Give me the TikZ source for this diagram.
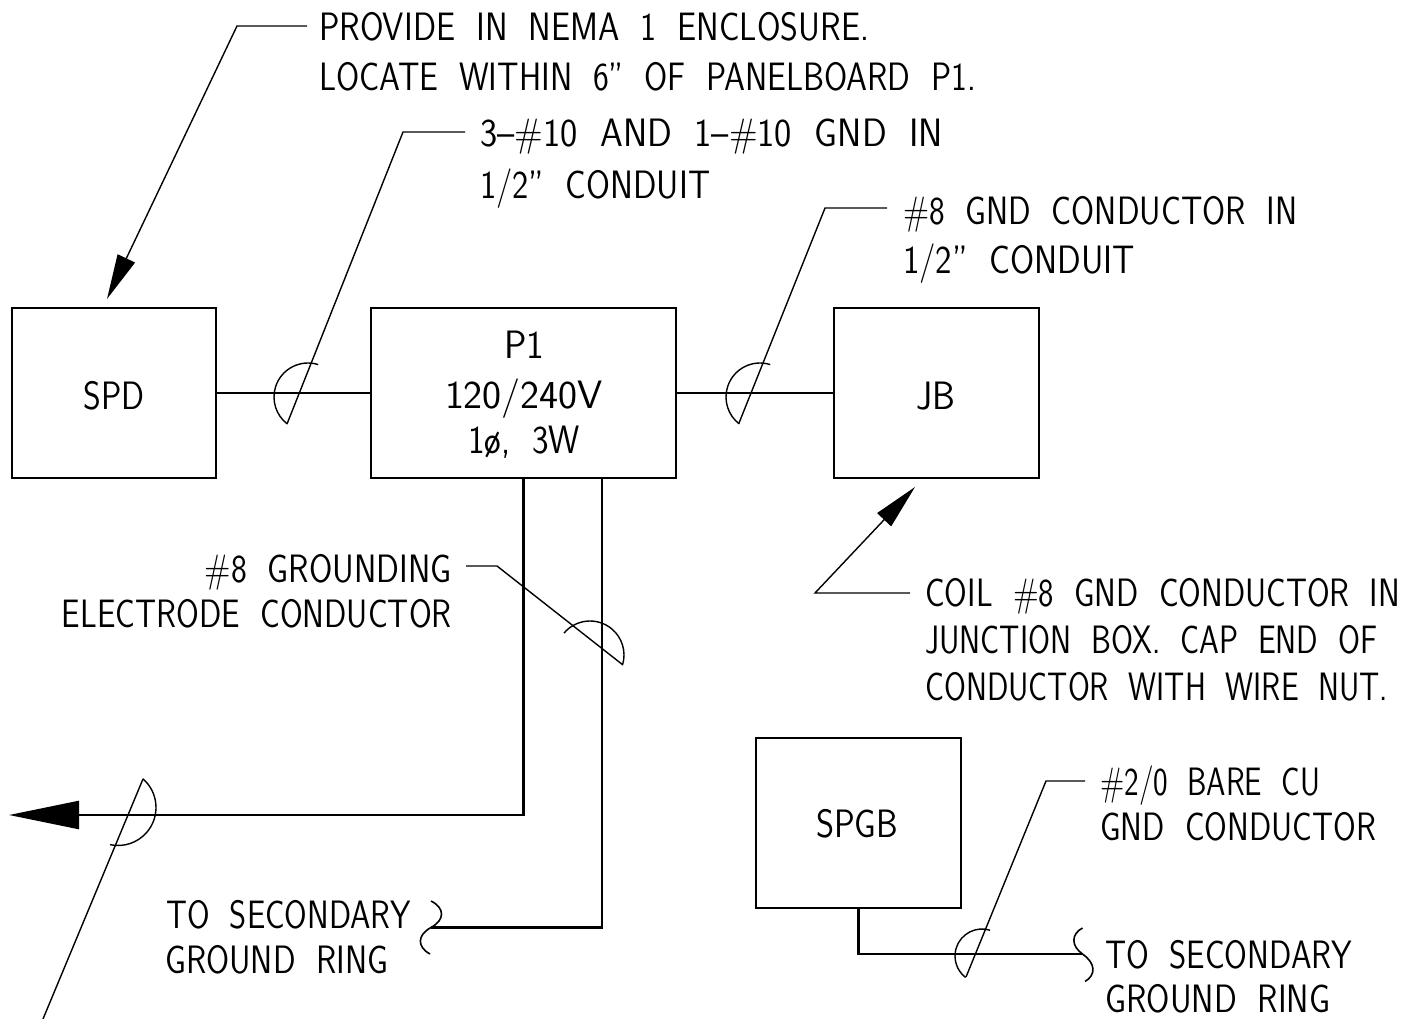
\documentclass[tikz,border=0pt]{standalone}
\usetikzlibrary{arrows.meta}
\usepackage{graphicx}
\newsavebox\fitbox
\newcommand\fitw[2]{\sbox\fitbox{\spaceskip=0.62em\relax #2}\pgfmathsetmacro\fitr{#1/\wd\fitbox}\scalebox{\fitr}[1]{\usebox\fitbox}}
\begin{document}
\begin{tikzpicture}[x=1pt,y=1pt,yscale=-1,
  box/.style={draw, line width=2.6pt, inner sep=0pt, minimum height=170pt},
  wire/.style={line width=2.4pt},
  leader/.style={line width=1.4pt},
  arcs/.style={line width=1.4pt},
  brk/.style={line width=1.6pt},
  lbl/.style={inner sep=0pt, font=\sffamily\fontsize{39.6}{45}\selectfont},
  bigtip/.style={-{Triangle[length=70pt,width=28pt]}},
  smalltip/.style={-{Triangle[length=45pt,width=19pt]}}]
\useasboundingbox (0,0) rectangle (1426,1019);
\fill[white] (0,0) rectangle (1426,1019);

% boxes
\node[box, minimum width=204pt] (spd) at (114,393) {};
\node[box, minimum width=305pt] (p1) at (523.5,393) {};
\node[box, minimum width=205pt] (jb) at (936.5,393) {};
\node[box, minimum width=205pt] (spgb) at (858.5,823) {};

% box labels
\node[lbl, anchor=base] (spdt) at (114,409) {\fitw{61}{SPD}};
\node[lbl, anchor=base] (p1t1) at (524,358) {\fitw{40}{P1}};
\node[lbl, anchor=base] (p1t2) at (524,408) {\fitw{158}{120/240V}};
\node[lbl, anchor=base] (p1t3) at (524,453) {\fitw{112}{1ø, 3W}};
\node[lbl, anchor=base] (jbt) at (936,409) {\fitw{39}{JB}};
\node[lbl, anchor=base] (spgbt) at (857,837) {\fitw{82}{SPGB}};

% wires
\draw[wire] (spd) -- (p1);
\draw[wire] (p1) -- (jb);
\coordinate (gtip) at (9,815);
\draw[wire,bigtip] (p1.south) |- (gtip);
\coordinate (p1s2) at ([xshift=78.5pt]p1.south);
\coordinate (brkL) at (431,927.5);
\draw[wire] (p1s2) |- (brkL);
\coordinate (brkR) at (1082.5,954);
\draw[wire] (spgb.south) |- (brkR);

% break symbols
\draw[brk] (431,901) .. controls (445,908) and (445,920) .. (brkL)
  .. controls (417,935) and (417,947) .. (430,954);
\draw[brk] (1082.5,928) .. controls (1071,934) and (1071,946) .. (brkR)
  .. controls (1096,963.5) and (1096,975) .. (1085,981.5);

% conduit arcs
\draw[arcs] (308,397) ++(-72.5:34) arc[start angle=-72.5, end angle=-232.5, radius=34];
\draw[arcs] (760,397) ++(-72.5:34) arc[start angle=-72.5, end angle=-232.5, radius=34];
\draw[arcs] (590,655) ++(-140:34) arc[start angle=-140, end angle=16, radius=34];
\draw[arcs] (118,807.5) ++(-49:38) arc[start angle=-49, end angle=102, radius=38];
\draw[arcs] (982,956) ++(-72.5:27) arc[start angle=-72.5, end angle=-232.5, radius=27];

% leaders
\coordinate (l1s) at (307,26); \coordinate (l1k) at (237,26); \coordinate (spdtip) at (107,299);
\draw[leader,smalltip] (l1s) -- (l1k) -- (spdtip);
\coordinate (l2s) at (465,132); \coordinate (l2k) at (403,132); \coordinate (l2e) at (287,424);
\draw[leader] (l2s) -- (l2k) -- (l2e);
\coordinate (l3s) at (887,208); \coordinate (l3k) at (825,208); \coordinate (l3e) at (739,423);
\draw[leader] (l3s) -- (l3k) -- (l3e);
\coordinate (l4s) at (910,593); \coordinate (l4k) at (815,593); \coordinate (jbtip) at (915,487);
\draw[leader,smalltip] (l4s) -- (l4k) -- (jbtip);
\coordinate (l5s) at (466,566); \coordinate (l5k) at (497,566); \coordinate (l5e) at (623,665);
\draw[leader] (l5s) -- (l5k) -- (l5e);
\coordinate (l6s) at (143,779); \coordinate (l6e) at (43,1019);
\draw[leader] (l6s) -- (l6e);
\coordinate (l7s) at (1085,781); \coordinate (l7k) at (1046,781); \coordinate (l7e) at (966,977);
\draw[leader] (l7s) -- (l7k) -- (l7e);

% notes
\node[lbl, anchor=base west] (t1a) at (319,41) {\fitw{550}{PROVIDE IN NEMA 1 ENCLOSURE.}};
\node[lbl, anchor=base west] (t1b) at (319,91) {\fitw{657}{LOCATE WITHIN 6” OF PANELBOARD P1.}};
\node[lbl, anchor=base west] (t2a) at (480,147) {\fitw{463}{3–\#10 AND 1–\#10 GND IN}};
\node[lbl, anchor=base west] (t2b) at (480,198) {\fitw{230}{1/2” CONDUIT}};
\node[lbl, anchor=base west] (t3a) at (903,224) {\fitw{394}{\#8 GND CONDUCTOR IN}};
\node[lbl, anchor=base west] (t3b) at (903,273) {\fitw{232}{1/2” CONDUIT}};
\node[lbl, anchor=base west] (t4a) at (925,606.5) {\fitw{475}{COIL \#8 GND CONDUCTOR IN}};
\node[lbl, anchor=base west] (t4b) at (925,653) {\fitw{452}{JUNCTION BOX. CAP END OF}};
\node[lbl, anchor=base west] (t4c) at (925,700) {\fitw{463}{CONDUCTOR WITH WIRE NUT.}};
\node[lbl, anchor=base east] (t5a) at (452,582) {\fitw{247}{\#8 GROUNDING}};
\node[lbl, anchor=base east] (t5b) at (452,627) {\fitw{390}{ELECTRODE CONDUCTOR}};
\node[lbl, anchor=base west] (t6a) at (166,928) {\fitw{245}{TO SECONDARY}};
\node[lbl, anchor=base west] (t6b) at (165,973) {\fitw{223}{GROUND RING}};
\node[lbl, anchor=base west] (t7a) at (1100,795) {\fitw{220}{\#2/0 BARE CU}};
\node[lbl, anchor=base west] (t7b) at (1100,840) {\fitw{276}{GND CONDUCTOR}};
\node[lbl, anchor=base west] (t8a) at (1105,968) {\fitw{247}{TO SECONDARY}};
\node[lbl, anchor=base west] (t8b) at (1105,1012) {\fitw{225}{GROUND RING}};
\end{tikzpicture}
\end{document}
